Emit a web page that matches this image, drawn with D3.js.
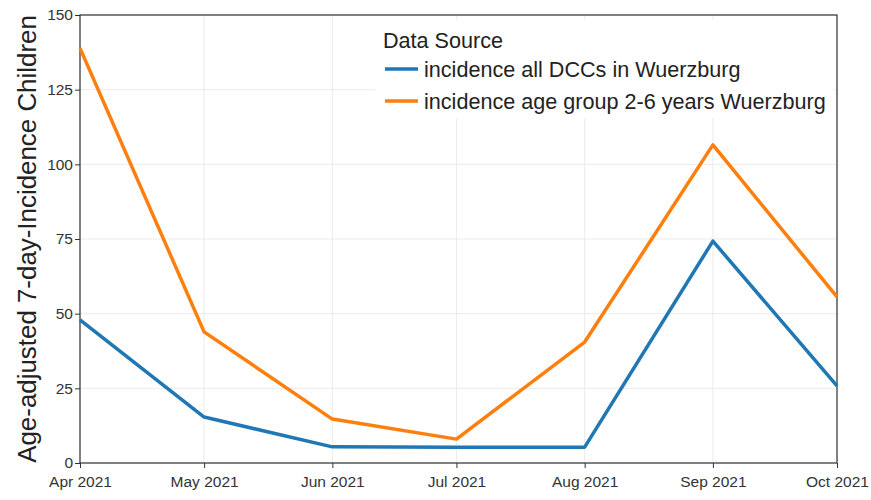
<!DOCTYPE html>
<html>
<head>
<meta charset="utf-8">
<script src="https://cdn.jsdelivr.net/npm/d3@7"></script>
<style>
  html, body { margin: 0; padding: 0; background: #fff; }
  svg { display: block; font-family: "Liberation Sans", Arial, sans-serif; }
</style>
</head>
<body>
<svg id="chart" width="871" height="500"></svg>
<script>
// Monthly sample dates
const months = ["2021-04-01", "2021-05-01", "2021-06-01", "2021-07-01", "2021-08-01", "2021-09-01", "2021-10-01"];
// Age-adjusted 7-day incidence values per source
const dccValues = [47.9, 15.4, 5.4, 5.3, 5.3, 74.3, 25.8];
const ageGroupValues = [138.9, 43.9, 14.7, 8.0, 40.5, 106.5, 55.6];
const seriesNames = ["incidence all DCCs in Wuerzburg", "incidence age group 2-6 years Wuerzburg"];
const seriesColors = ["#1f77b4", "#ff7f0e"];
const yTicks = [0, 25, 50, 75, 100, 125, 150];

const parse = d3.timeParse("%Y-%m-%d");
const dates = months.map(parse);
const series = [dccValues, ageGroupValues].map((vals, i) => ({
  name: seriesNames[i],
  color: seriesColors[i],
  points: vals.map((v, j) => ({ date: dates[j], value: v }))
}));

const svg = d3.select("#chart");
const margin = { left: 80, right: 34, top: 15, bottom: 37 };
const W = 871, H = 500;
const iw = W - margin.left - margin.right;
const ih = H - margin.top - margin.bottom;

const x = d3.scaleTime().domain([dates[0], dates[dates.length - 1]]).range([0, iw]);
const y = d3.scaleLinear().domain([0, 150]).range([ih, 0]);

const g = svg.append("g").attr("transform", `translate(${margin.left},${margin.top})`);

// grid
g.append("g").selectAll("line.h").data(yTicks).join("line")
  .attr("x1", 0).attr("x2", iw)
  .attr("y1", d => y(d)).attr("y2", d => y(d))
  .attr("stroke", "#ebebeb").attr("stroke-width", 1);
g.append("g").selectAll("line.v").data(dates).join("line")
  .attr("y1", 0).attr("y2", ih)
  .attr("x1", d => x(d)).attr("x2", d => x(d))
  .attr("stroke", "#ebebeb").attr("stroke-width", 1);

// axes
const fmt = d3.timeFormat("%b %Y");
const xAxis = g.append("g").attr("transform", `translate(0,${ih})`)
  .call(d3.axisBottom(x).tickValues(dates).tickFormat(fmt).tickSize(5).tickSizeOuter(0));
const yAxis = g.append("g")
  .call(d3.axisLeft(y).tickValues(yTicks).tickSize(5).tickSizeOuter(0));
[xAxis, yAxis].forEach(a => {
  a.select(".domain").remove();
  a.selectAll(".tick line").attr("stroke", "#333");
  a.selectAll(".tick text").attr("fill", "#333")
    .style("font-size", "15.5px").style("font-family", "'Liberation Sans', Arial, sans-serif");
});
xAxis.selectAll(".tick text").attr("dy", "1.05em");
yAxis.selectAll(".tick text").attr("x", -7);

// frame
g.append("rect").attr("x", 0).attr("y", 0).attr("width", iw).attr("height", ih)
  .attr("fill", "none").attr("stroke", "#333").attr("stroke-width", 1.2);

// lines
const line = d3.line().x(d => x(d.date)).y(d => y(d.value));
g.append("g").selectAll("path").data(series).join("path")
  .attr("d", d => line(d.points))
  .attr("fill", "none")
  .attr("stroke", d => d.color)
  .attr("stroke-width", 3.5)
  .attr("stroke-linejoin", "round");

// y-axis title
svg.append("text")
  .attr("transform", `translate(36,${margin.top + ih / 2}) rotate(-90)`)
  .attr("text-anchor", "middle")
  .attr("fill", "#222")
  .style("font-size", "25.9px")
  .text("Age-adjusted 7-day-Incidence Children");

// legend
const lg = svg.append("g").attr("transform", "translate(375,20)");
lg.append("rect").attr("x", 0).attr("y", 0).attr("width", 458).attr("height", 98).attr("fill", "#fff");
lg.append("text").attr("x", 8).attr("y", 28).attr("fill", "#222")
  .style("font-size", "21.6px").text("Data Source");
const items = lg.selectAll("g.item").data(series).join("g")
  .attr("transform", (d, i) => `translate(10,${49 + i * 32})`);
items.append("line").attr("x1", 0).attr("x2", 33).attr("y1", 0).attr("y2", 0)
  .attr("stroke", d => d.color).attr("stroke-width", 3.5);
items.append("text").attr("x", 39).attr("y", 8).attr("fill", "#222")
  .style("font-size", "21.6px").text(d => d.name);
</script>
</body>
</html>
